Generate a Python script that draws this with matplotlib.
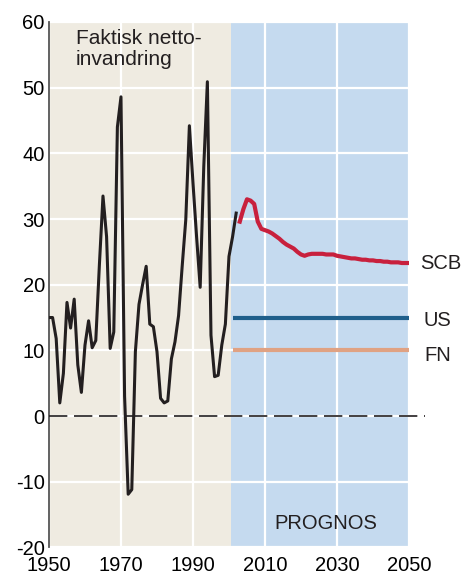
import matplotlib.pyplot as plt

plt.rcParams['font.family'] = ['Liberation Sans', 'DejaVu Sans']
plt.rcParams['axes.unicode_minus'] = False

# Faktisk nettoinvandring (tusental), 1950-2002
hist_years = list(range(1950, 2003))
hist_values = [15.0, 15.0, 11.8, 2.0, 6.5, 17.3, 13.4, 17.8, 7.8, 3.6,
               10.8, 14.5, 10.4, 11.5, 23.0, 33.5, 27.3, 10.3, 12.8, 44.0,
               48.6, 3.0, -11.9, -11.2, 9.8, 17.0, 20.0, 22.8, 14.0, 13.6,
               9.8, 2.7, 2.0, 2.3, 8.7, 11.3, 15.3, 22.8, 29.9, 44.2,
               35.5, 27.3, 19.6, 38.0, 50.9, 12.3, 6.0, 6.2, 10.8, 14.0,
               24.3, 27.3, 30.9]

# Prognoser
scb_years = list(range(2003, 2051))
scb_values = [29.6, 31.5, 33.0, 32.8, 32.3, 29.6, 28.5, 28.3, 28.1, 27.8,
              27.4, 27.0, 26.5, 26.1, 25.8, 25.5, 25.0, 24.6, 24.4, 24.6,
              24.7, 24.7, 24.7, 24.7, 24.6, 24.6, 24.6, 24.4, 24.3, 24.2,
              24.1, 24.0, 24.0, 23.9, 23.8, 23.8, 23.7, 23.7, 23.6, 23.6,
              23.5, 23.5, 23.4, 23.4, 23.4, 23.3, 23.3, 23.3]
flat_years = [2001, 2050]
us_values = [15, 15]
fn_values = [10, 10]

fig = plt.figure(figsize=(4.63, 5.75), dpi=100)
ax = fig.add_axes([0.1058, 0.048, 0.7775, 0.9138])

# bakgrunder
ax.axvspan(1950, 2000.5, color='#efebe1', zorder=0, lw=0)
ax.axvspan(2000.5, 2050, color='#c5daef', zorder=0, lw=0)

ax.set_xlim(1950, 2050)
ax.set_ylim(-20, 60)
ax.set_xticks([1950, 1970, 1990, 2010, 2030, 2050])
ax.set_yticks(range(-20, 61, 10))
ax.tick_params(length=0, labelsize=14.5)
ax.tick_params(axis='x', pad=6.5)
ax.tick_params(axis='y', pad=3)

for s in ['top', 'right', 'bottom']:
    ax.spines[s].set_visible(False)
ax.spines['left'].set_color('#555555')
ax.spines['left'].set_linewidth(1.3)

ax.set_axisbelow(True)
ax.grid(True, color='white', lw=1.6)

ax.axhline(0, xmin=0, xmax=1.045, color='#231f20', lw=1.2,
           dashes=(11, 4), clip_on=False, zorder=3)

ax.plot(hist_years, hist_values, color='#231f20', lw=2.2, zorder=4)
ax.plot(scb_years, scb_values, color='#c8203d', lw=3, zorder=4)
ax.plot(flat_years, us_values, color='#1f5f8b', lw=3, zorder=4, solid_capstyle='butt')
ax.plot(flat_years, fn_values, color='#e0a283', lw=3, zorder=4, solid_capstyle='butt')

ax.text(1957.4, 58.9, 'Faktisk netto-\ninvandring', fontsize=15,
        va='top', ha='left', color='#231f20', linespacing=1.15)
ax.text(2026.9, -16.35, 'PROGNOS', fontsize=14.5, ha='center', va='center',
        color='#231f20')
ax.text(2053.1, 23.3, 'SCB', fontsize=14.5, va='center', ha='left',
        color='#231f20', clip_on=False)
ax.text(2054.0, 14.6, 'US', fontsize=14.5, va='center', ha='left',
        color='#231f20', clip_on=False)
ax.text(2054.4, 9.2, 'FN', fontsize=14.5, va='center', ha='left',
        color='#231f20', clip_on=False)

plt.savefig('out.png', dpi=100)
